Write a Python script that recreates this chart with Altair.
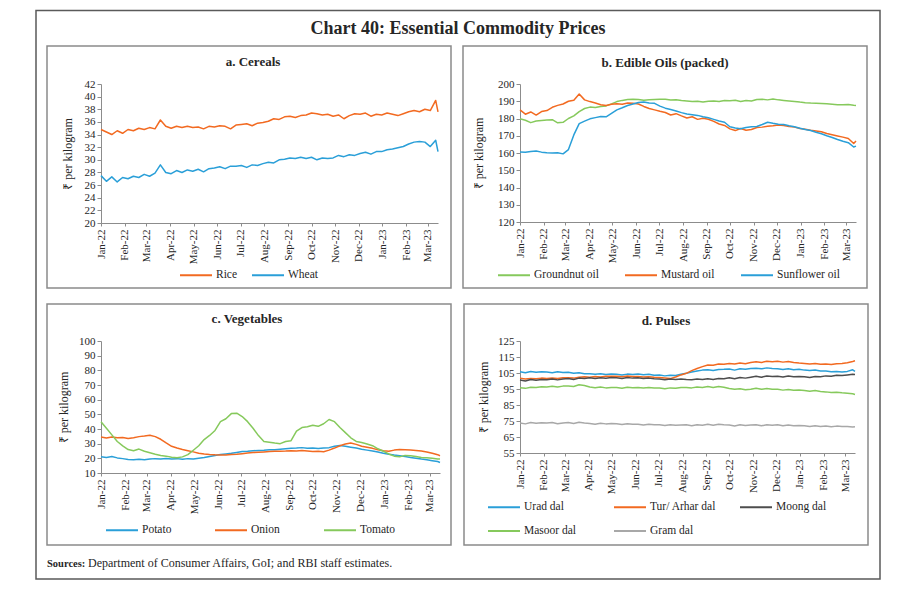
import altair as alt
import pandas as pd

FONT = "Liberation Serif"
ORANGE = "#F26A21"
BLUE = "#2A9FD8"
GREEN = "#86C95C"
DARK = "#4D4D4D"
GREY = "#A8A8A8"
TXT = "#262626"

# weekly observation dates (Jan-2022 .. mid-Mar-2023)
DATES = [d.strftime("%Y-%m-%dT00:00:00") for d in pd.date_range("2022-01-01", periods=63, freq="7D")] + ["2023-03-14T00:00:00"]
MONTH_TICKS = [alt.DateTime(year=2022 + m // 12, month=m % 12 + 1, date=1) for m in range(15)]

# a. Cereals
RICE = [34.8, 34.4, 34.0, 34.6, 34.2, 34.8, 34.6, 35.0, 34.8, 35.1, 34.9, 36.3, 35.3,
        35.0, 35.3, 35.1, 35.3, 35.1, 35.2, 34.9, 35.3, 35.2, 35.4, 35.3, 34.9, 35.5,
        35.6, 35.7, 35.4, 35.8, 35.9, 36.1, 36.5, 36.4, 36.8, 36.9, 36.7, 37.0, 37.1,
        37.4, 37.3, 37.1, 37.2, 36.9, 37.1, 36.5, 37.0, 37.3, 37.2, 37.4, 36.9, 37.2, 37.1,
        37.4, 37.2, 37.0, 37.3, 37.6, 37.8, 37.6, 38.0, 37.8, 39.4, 37.6]
WHEAT = [27.5, 26.6, 27.3, 26.5, 27.2, 27.0, 27.4, 27.2, 27.7, 27.4, 27.9, 29.2, 28.0,
         27.8, 28.3, 28.0, 28.4, 28.2, 28.5, 28.1, 28.6, 28.7, 28.9, 28.6, 29.0, 29.0,
         29.1, 28.8, 29.2, 29.1, 29.4, 29.6, 29.5, 30.0, 30.1, 30.3, 30.2, 30.4, 30.2,
         30.4, 30.0, 30.3, 30.2, 30.3, 30.7, 30.5, 30.8, 30.7, 31.0, 31.2, 30.9, 31.3, 31.3,
         31.6, 31.7, 31.9, 32.1, 32.5, 32.8, 32.9, 32.8, 32.1, 33.1, 31.3]

# b. Edible oils
GROUNDNUT = [179.8, 179.0, 177.6, 178.5, 178.9, 179.1, 179.3, 177.5, 177.8, 180.0, 181.5, 184.0, 185.8,
             186.6, 186.4, 187.0, 187.3, 188.5, 189.8, 190.5, 191.0, 191.2, 191.0, 190.6, 190.8, 191.0,
             191.2, 191.1, 190.7, 190.9, 190.5, 190.2, 189.8, 190.0, 189.6, 190.0, 190.2, 189.8, 190.4,
             190.3, 190.6, 189.9, 190.4, 190.1, 191.0, 191.2, 190.8, 191.3, 190.8, 190.5, 190.2, 189.9, 189.5,
             189.2, 189.0, 188.9, 188.7, 188.5, 188.3, 188.0, 187.9, 188.1, 187.7, 187.6]
MUSTARD = [185.0, 182.5, 183.8, 182.0, 184.0, 184.6, 186.5, 187.6, 188.4, 190.0, 190.6, 194.2, 190.8,
           189.8, 189.0, 188.0, 187.5, 188.2, 188.6, 188.3, 189.0, 188.8, 188.4, 187.0, 185.8, 185.0,
           184.2, 183.5, 182.0, 182.8, 181.5, 180.3, 181.0, 179.5, 180.2, 179.6, 178.3, 176.8, 176.0,
           174.0, 173.0, 174.2, 173.2, 173.6, 174.8, 175.0, 175.5, 175.8, 176.2, 175.9, 175.4, 175.0, 174.2,
           173.8, 173.2, 172.8, 172.3, 171.3, 170.6, 169.9, 169.2, 168.4, 165.5, 167.0]
SUNFLOWER = [160.6, 160.4, 160.9, 161.2, 160.5, 160.2, 160.0, 160.1, 159.5, 162.0, 170.5, 177.0, 178.5,
             179.8, 180.5, 181.2, 181.0, 183.0, 185.0, 186.2, 187.5, 188.4, 189.3, 189.6, 189.0, 188.8,
             187.2, 186.0, 185.2, 184.3, 183.4, 182.6, 182.2, 181.8, 181.0, 180.4, 179.5, 178.6, 177.8,
             175.2, 174.5, 174.0, 174.8, 175.2, 175.4, 176.5, 177.8, 177.2, 176.7, 176.5, 175.8, 175.2, 174.4,
             173.6, 173.0, 172.0, 171.2, 170.0, 169.0, 167.8, 166.8, 166.0, 163.5, 164.0]

# c. Vegetables
POTATO = [21.0, 20.6, 21.2, 20.3, 19.8, 19.2, 19.0, 19.3, 19.1, 19.5, 19.8, 19.6, 19.9,
          19.6, 19.8, 19.3, 19.8, 19.6, 20.1, 20.5, 21.3, 22.0, 22.6, 23.0, 23.4, 24.0,
          24.6, 24.8, 25.2, 25.4, 25.5, 25.8, 25.9, 26.2, 26.5, 26.8, 27.0, 27.3, 26.8,
          27.0, 26.7, 27.1, 27.3, 28.2, 28.8, 28.2, 27.6, 27.0, 26.2, 25.6, 25.0, 24.3, 23.4,
          22.8, 22.2, 21.8, 21.2, 20.6, 20.1, 19.5, 19.0, 18.4, 17.8, 17.2]
ONION = [34.5, 33.8, 34.6, 34.0, 34.2, 33.6, 34.0, 34.8, 35.2, 35.8, 34.8, 33.0, 30.5,
         28.2, 27.0, 26.0, 25.2, 24.4, 23.5, 23.0, 22.6, 22.4, 22.3, 22.2, 22.6, 22.8,
         23.2, 23.6, 23.9, 24.2, 24.4, 24.6, 24.8, 24.9, 25.0, 25.2, 25.0, 25.4, 25.0,
         24.6, 24.8, 24.5, 25.6, 27.0, 28.6, 29.8, 30.5, 29.5, 28.2, 27.5, 26.8, 25.8, 25.2,
         24.8, 25.6, 26.0, 25.8, 25.6, 25.4, 25.0, 24.3, 23.4, 22.5, 21.8]
TOMATO = [44.9, 40.5, 36.0, 31.5, 28.5, 26.0, 25.2, 26.3, 24.8, 23.8, 22.8, 21.9, 21.5,
          20.8, 20.4, 21.0, 22.5, 25.5, 28.6, 32.8, 35.6, 39.0, 45.0, 47.0, 50.5, 50.8,
          48.5, 45.0, 40.5, 35.5, 31.5, 31.0, 30.4, 30.0, 31.5, 32.0, 38.5, 41.0, 41.5,
          42.5, 41.8, 43.6, 46.5, 45.0, 41.0, 37.5, 34.0, 31.5, 30.8, 29.8, 28.6, 26.5, 24.8,
          23.0, 21.5, 21.0, 22.0, 21.8, 21.2, 20.6, 20.4, 20.0, 19.6, 19.5]

# d. Pulses
URAD = [105.8, 105.2, 106.0, 105.5, 105.8, 105.6, 105.2, 105.8, 105.3, 105.4, 104.8, 105.2, 104.6,
        104.5, 104.2, 104.6, 104.0, 104.3, 104.2, 103.8, 104.3, 104.0, 104.4, 103.9, 104.2, 103.6,
        103.7, 103.2, 103.6, 103.5, 104.2, 104.8, 105.6, 106.2, 106.8, 107.0, 106.5, 107.2, 107.3,
        107.5, 106.8, 107.6, 107.4, 107.8, 108.0, 107.6, 108.2, 107.8, 107.6, 107.2, 107.6, 107.0, 107.3,
        106.8, 106.6, 106.9, 106.3, 106.2, 105.8, 106.0, 105.7, 106.0, 107.0, 106.0]
TUR = [101.8, 101.2, 101.6, 101.4, 101.8, 101.6, 101.9, 101.5, 102.0, 102.0, 101.8, 102.4, 102.6,
       102.4, 102.8, 102.5, 102.9, 103.0, 103.0, 102.7, 103.1, 102.8, 102.8, 102.5, 102.7, 102.4,
       102.2, 101.9, 101.5, 102.5, 103.8, 104.8, 106.5, 107.8, 109.0, 110.0, 109.8, 110.6, 110.4,
       111.0, 110.6, 111.3, 110.8, 111.5, 112.0, 111.6, 112.3, 112.0, 112.4, 111.8, 112.2, 111.5, 111.2,
       111.0, 110.6, 111.0, 110.4, 110.6, 110.3, 110.8, 111.0, 111.4, 112.2, 112.6]
MOONG = [100.6, 100.0, 100.9, 100.5, 101.0, 100.8, 101.2, 100.7, 101.3, 101.5, 101.0, 101.8, 101.6,
         102.0, 101.5, 102.1, 101.7, 102.2, 102.0, 101.6, 102.2, 101.8, 102.0, 101.5, 101.8, 101.4,
         101.3, 100.8, 101.2, 100.9, 101.3, 101.0, 100.8, 101.2, 100.9, 101.4, 101.0, 101.6, 101.4,
         102.0, 101.4, 102.2, 101.8, 102.4, 103.0, 102.4, 103.1, 102.8, 103.0, 102.5, 103.1, 102.6, 102.8,
         102.6, 102.2, 102.8, 102.6, 103.2, 103.0, 103.6, 103.4, 103.8, 104.2, 104.0]
MASOOR = [95.8, 95.4, 96.1, 96.0, 96.4, 96.3, 96.7, 96.2, 96.8, 96.9, 96.6, 97.6, 97.2,
          96.2, 95.8, 96.2, 95.7, 96.0, 95.9, 95.5, 96.1, 95.8, 96.0, 95.6, 96.0, 95.7,
          95.6, 95.2, 95.7, 95.4, 96.0, 96.0, 95.7, 96.3, 96.0, 96.5, 95.9, 96.6, 96.1,
          95.3, 94.8, 95.2, 94.5, 94.9, 95.4, 94.8, 95.3, 94.9, 94.8, 94.3, 94.7, 94.2, 94.4,
          94.1, 93.6, 94.0, 93.5, 93.2, 92.8, 93.0, 92.6, 92.3, 92.0, 91.6]
GRAM = [73.8, 73.2, 74.0, 73.6, 73.9, 73.7, 74.0, 73.3, 73.8, 74.0, 73.5, 74.2, 73.8,
        73.5, 73.0, 73.6, 73.2, 73.4, 73.3, 72.8, 73.3, 72.9, 73.0, 72.5, 72.9, 72.6,
        72.6, 72.2, 72.7, 72.4, 72.5, 72.6, 72.1, 72.7, 72.4, 72.9, 72.4, 73.0, 72.6,
        72.5, 71.9, 72.6, 72.2, 72.5, 72.6, 72.0, 72.7, 72.3, 72.6, 72.0, 72.5, 72.1, 72.2,
        72.0, 71.5, 72.0, 71.6, 71.9, 71.4, 71.8, 71.5, 71.6, 71.2, 71.4]

Y_TICKS_A = [20, 22, 24, 26, 28, 30, 32, 34, 36, 38, 40, 42]
Y_TICKS_B = [120, 130, 140, 150, 160, 170, 180, 190, 200]
Y_TICKS_C = [10, 20, 30, 40, 50, 60, 70, 80, 90, 100]
Y_TICKS_D = [55, 65, 75, 85, 95, 105, 115, 125]

ONE = pd.DataFrame({"k": [0]})


def long_df(series):
    rows = []
    for name, vals in series.items():
        assert len(vals) == len(DATES), (name, len(vals))
        for d, v in zip(DATES, vals):
            rows.append({"date": d, "series": name, "value": v})
    return pd.DataFrame(rows)


def frame(x, x2, y, y2, color="#8a8a8a", sw=1.5):
    return alt.Chart(ONE).mark_rect(fillOpacity=0, stroke=color, strokeWidth=sw).encode(
        x=alt.value(x), x2=alt.value(x2), y=alt.value(y), y2=alt.value(y2))


def label(text, x, y, size=13, weight="bold", align="center", color=TXT):
    return alt.Chart(ONE).mark_text(text=text, font=FONT, fontSize=size, fontWeight=weight,
                                    align=align, baseline="alphabetic", color=color).encode(
        x=alt.value(x), y=alt.value(y))


def panel(series, colors, ydom, yticks, w, h, title_pad, legend_kw):
    df = long_df(series)
    order = list(series.keys())
    return alt.Chart(df).mark_line(strokeWidth=1.5, strokeJoin="round").encode(
        x=alt.X("date:T", title=None,
                scale=alt.Scale(domain=[alt.DateTime(year=2022, month=1, date=1),
                                        alt.DateTime(year=2023, month=3, date=14)]),
                axis=alt.Axis(values=MONTH_TICKS, format="%b-%y", labelAngle=270, tickSize=3,
                              labelPadding=3)),
        y=alt.Y("value:Q", title="₹ per kilogram",
                scale=alt.Scale(domain=list(ydom), nice=False, zero=False),
                axis=alt.Axis(values=yticks, tickSize=4, titlePadding=title_pad)),
        color=alt.Color("series:N", scale=alt.Scale(domain=order, range=colors),
                        legend=alt.Legend(title=None, orient="none", direction="horizontal",
                                          symbolType="M-2,0H2", symbolSize=256, symbolStrokeWidth=2,
                                          labelOffset=11, labelFont=FONT, labelFontSize=11.5,
                                          labelColor=TXT, padding=0, **legend_kw)),
    ).properties(width=w, height=h)


pa = panel({"Rice": RICE, "Wheat": WHEAT}, [ORANGE, BLUE], (20, 42), Y_TICKS_A, 337, 139, 10,
           dict(legendX=86, legendY=182, columns=2, columnPadding=10, gridAlign="each"))
pb = panel({"Groundnut oil": GROUNDNUT, "Mustard oil": MUSTARD, "Sunflower oil": SUNFLOWER},
           [GREEN, ORANGE, BLUE], (120, 200), Y_TICKS_B, 336, 138, 12,
           dict(legendX=-15, legendY=182, columns=3, columnPadding=22, gridAlign="each"))
pc = panel({"Potato": POTATO, "Onion": ONION, "Tomato": TOMATO}, [BLUE, ORANGE, GREEN],
           (10, 100), Y_TICKS_C, 339, 132, 8,
           dict(legendX=12, legendY=180, columns=3, columnPadding=34, gridAlign="all"))
pd_ = panel({"Urad dal": URAD, "Tur/ Arhar dal": TUR, "Moong dal": MOONG,
             "Masoor dal": MASOOR, "Gram dal": GRAM},
            [BLUE, ORANGE, DARK, GREEN, GREY], (55, 125), Y_TICKS_D, 335, 112, 7,
            dict(legendX=-25, legendY=157, columns=3, columnPadding=19, gridAlign="all", rowPadding=9))

a = alt.layer(
    frame(-65, 779, -73.5, 495, color="#5a5a5a", sw=1.5),
    label("Chart 40: Essential Commodity Prices", 357, -50, size=18),
    frame(-54, 350, -38, 204),
    label("a. Cereals", 152, -18),
    pa,
)
b = alt.layer(frame(-57, 347, -38, 204), label("b. Edible Oils (packed)", 145, -17), pb)
c = alt.layer(
    frame(-54, 350, -37, 204),
    label("c. Vegetables", 146, -18),
    label("Sources:", -54, 226, size=10.5, align="left"),
    label("Department of Consumer Affairs, GoI; and RBI staff estimates.", -13, 226, size=12,
          weight="normal", align="left"),
    pc,
)
d = alt.layer(frame(-56, 348, -37, 204), label("d. Pulses", 146, -16), pd_)

chart = alt.concat(a, b, c, d, columns=2, spacing={"row": 118, "column": 80}, bounds="flush").resolve_scale(
    color="independent"
).properties(
    padding={"left": 27, "top": 1, "right": 5, "bottom": 5},
    background="white",
).configure_view(stroke=None).configure_axis(
    labelFont=FONT, labelFontSize=11, labelColor=TXT,
    titleFont=FONT, titleFontSize=12, titleFontWeight="normal", titleColor=TXT,
    domainColor="#8c8c8c", tickColor="#8c8c8c", grid=False,
)

chart.save("out.html", embed_options={"renderer": "svg", "actions": False})
